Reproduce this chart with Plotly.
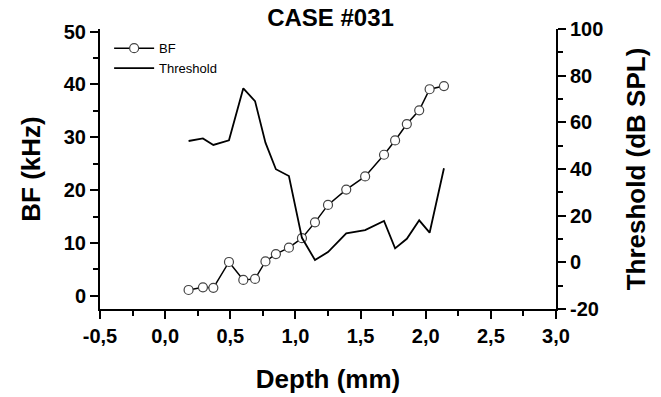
import plotly.graph_objects as go

depth = [0.18, 0.29, 0.37, 0.49, 0.60, 0.69, 0.77, 0.85, 0.95, 1.05,
         1.15, 1.25, 1.39, 1.535, 1.68, 1.765, 1.855, 1.95, 2.03, 2.14]
bf_khz = [1.1, 1.6, 1.5, 6.4, 3.0, 3.2, 6.5, 7.9, 9.1, 10.9,
          13.9, 17.2, 20.1, 22.6, 26.7, 29.4, 32.5, 35.1, 39.1, 39.7]
threshold_db = [52.0, 53.1, 50.3, 52.3, 74.6, 69.1, 51.3, 39.9, 37.0, 10.5,
                1.0, 4.4, 12.4, 13.8, 17.7, 6.0, 10.1, 18.0, 12.7, 40.3]

x_tickvals = [-0.5, 0.0, 0.5, 1.0, 1.5, 2.0, 2.5, 3.0]
x_ticktext = ["-0,5", "0,0", "0,5", "1,0", "1,5", "2,0", "2,5", "3,0"]
y1_tickvals = [0, 10, 20, 30, 40, 50]
y1_ticktext = ["0", "10", "20", "30", "40", "50"]
y2_tickvals = [-20, 0, 20, 40, 60, 80, 100]
y2_ticktext = ["-20", "0", "20", "40", "60", "80", "100"]

title_text = "CASE #031"
x_title = "Depth (mm)"
y1_title = "BF (kHz)"
y2_title = "Threshold (dB SPL)"

FONT = "Liberation Sans, Arial, sans-serif"

fig = go.Figure()
fig.add_trace(go.Scatter(
    x=depth, y=bf_khz, name="BF", mode="lines+markers",
    line=dict(color="black", width=1.5),
    marker=dict(symbol="circle", size=9, color="white",
                line=dict(color="#444444", width=1.2)),
    yaxis="y"))
fig.add_trace(go.Scatter(
    x=depth, y=threshold_db, name="Threshold", mode="lines",
    line=dict(color="black", width=1.8),
    yaxis="y2"))

axis_common = dict(showgrid=False, zeroline=False, showline=True, automargin=False,
                   linecolor="black", linewidth=2, ticks="outside",
                   ticklen=8, tickwidth=2, tickcolor="black",
                   tickfont=dict(family=FONT, size=20, color="black", weight="bold"))

fig.update_layout(
    width=661, height=397,
    margin=dict(l=100, r=105, t=29, b=88),
    paper_bgcolor="white", plot_bgcolor="white",
    title=dict(text="<b>" + title_text + "</b>", x=0.5, xanchor="center",
               y=0.978, yanchor="top",
               font=dict(family=FONT, size=24, color="black")),
    xaxis=dict(range=[-0.5, 3.0], tickmode="array", tickvals=x_tickvals, ticktext=x_ticktext,
               minor=dict(dtick=0.25, ticks="outside", ticklen=5, tickwidth=2, tickcolor="black"),
               title=dict(text="<b>" + x_title + "</b>", standoff=24,
                          font=dict(family=FONT, size=26, color="black")),
               **axis_common),
    yaxis=dict(range=[-2.5, 50.5], tickmode="array", tickvals=y1_tickvals, ticktext=y1_ticktext,
               minor=dict(dtick=5, tick0=0, ticks="outside", ticklen=5, tickwidth=2, tickcolor="black"),
               title=dict(text="<b>" + y1_title + "</b>", standoff=16,
                          font=dict(family=FONT, size=26, color="black")),
               **axis_common),
    yaxis2=dict(range=[-20, 100], tickmode="array", tickvals=y2_tickvals, ticktext=y2_ticktext,
                overlaying="y", side="right",
                minor=dict(dtick=10, tick0=0, ticks="outside", ticklen=5, tickwidth=2, tickcolor="black"),
                title=dict(text="<b>" + y2_title + "</b>", standoff=24,
                           font=dict(family=FONT, size=26, color="black")),
                **axis_common),
    legend=dict(x=0.02, y=0.985, xanchor="left", yanchor="top",
                bgcolor="rgba(0,0,0,0)", font=dict(family=FONT, size=13, color="black"),
                tracegroupgap=0, itemwidth=40),
    showlegend=True,
)

fig.write_html("out.html")
